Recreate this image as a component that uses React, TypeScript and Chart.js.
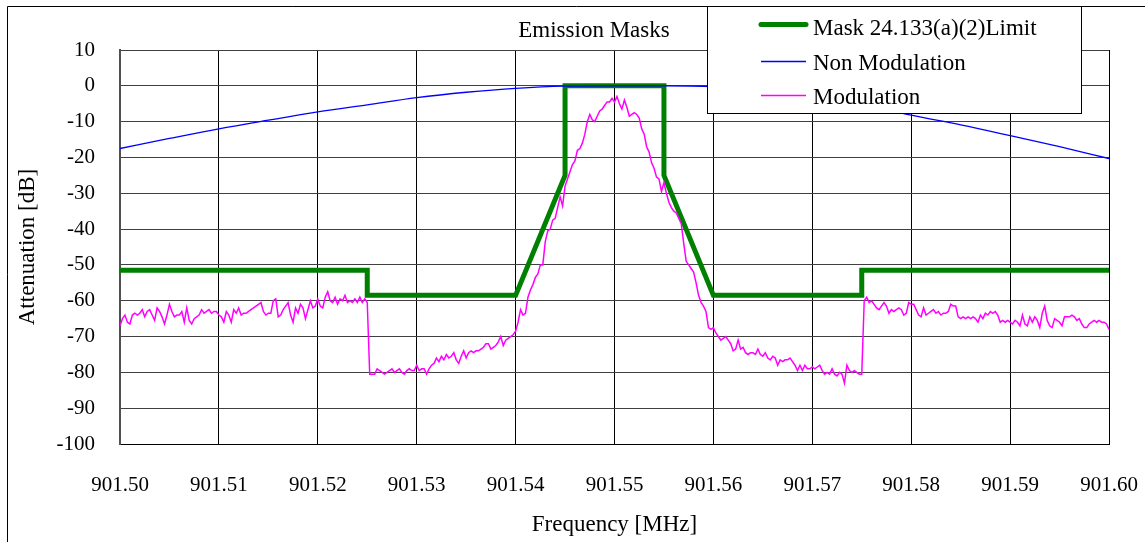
import React, { useEffect, useRef } from 'react';
import { Chart, registerables } from 'chart.js';

Chart.register(...registerables);

const FONT = "'Liberation Serif', 'Times New Roman', serif";

const chartTitle = 'Emission Masks';
const xAxisTitle = 'Frequency [MHz]';
const yAxisTitle = 'Attenuation [dB]';
const seriesNames = ['Mask 24.133(a)(2)Limit', 'Non Modulation', 'Modulation'];
const seriesColors = ['#008000', '#0000FF', '#FF00FF'];

const xTicks = [901.5, 901.51, 901.52, 901.53, 901.54, 901.55, 901.56, 901.57, 901.58, 901.59, 901.6];
const yMin = -100;
const yMax = 10;
const yStep = 10;

// Mask 24.133(a)(2) limit
const maskFreq = [901.5, 901.525, 901.525, 901.54, 901.545, 901.545, 901.555, 901.555, 901.56, 901.575, 901.575, 901.6];
const maskValues = [-51.5, -51.5, -58.5, -58.5, -25, 0, 0, -25, -58.5, -58.5, -51.5, -51.5];

// Non modulation (carrier only)
const nonModFreq = [
  901.5, 901.505, 901.51, 901.515, 901.52, 901.525, 901.53, 901.535, 901.54, 901.545, 901.55,
  901.555, 901.56, 901.565, 901.57, 901.575, 901.58, 901.585, 901.59, 901.595, 901.6,
];
const nonModValues = [
  -17.5, -14.7, -12.0, -9.6, -7.3, -5.3, -3.3, -1.8, -0.7, -0.1, 0,
  0, -0.2, -1.0, -2.6, -5.0, -8.2, -10.9, -13.9, -17.0, -20.3,
];

// Modulation trace, sampled every 0.00025 MHz starting at 901.500
const modStart = 901.5;
const modStep = 0.00025;
const modValues = [
  -67, -65, -64, -66, -66.5, -64, -63.5, -64, -63.5, -62.5,
  -64.5, -63, -62.5, -64, -65.5, -62, -63, -64.5, -66.5, -64,
  -61, -63, -64.5, -64, -64, -63, -66, -62, -65.5, -66.5,
  -65, -64.5, -64, -62.5, -63.5, -63, -62.5, -63.5, -63, -63,
  -64, -64.5, -66, -63, -64, -66, -62.5, -63.5, -62, -64,
  -63.5, -63.5, -63, -62.5, -62, -61.5, -61, -60.5, -63, -64,
  -63.5, -63.5, -60, -59.5, -64.5, -64, -62.5, -61.5, -60.5, -64,
  -66, -62, -63.5, -61, -62, -65, -62.5, -60, -62, -61.5,
  -59.5, -61.5, -62, -59, -57.5, -60, -60.5, -59, -61, -59.5,
  -60, -58.5, -60.5, -60, -60.5, -59.5, -60.5, -59, -60.5, -59.5,
  -60.5,
  -80.5, -80.5, -80.5, -79, -79.5, -80, -80.5, -80, -79.5, -79,
  -80, -79.5, -79, -80, -80.5, -79.5, -79, -79.5, -79.5, -78,
  -79.5, -79, -79, -80.5, -79, -78, -77.5, -76, -77, -75.5,
  -76.5, -75, -76, -75.5, -74.5, -76.5, -77.5, -75.5, -74, -76,
  -74.5, -74, -74.5, -74, -74, -73.5, -73, -72, -72, -73.5,
  -73, -72.5, -71.5, -70, -72.5, -71, -70.5, -70, -69.5, -68.5,
  -66, -62.5, -64, -63.5, -59, -57, -55.5, -53.5, -52.5, -50,
  -50, -43.5, -40.5, -40, -37.5, -37, -34, -31, -33.5, -28,
  -26, -24, -22, -21, -18, -17.5, -16, -13.5, -10, -8,
  -9.5, -10, -8.5, -7, -6.5, -5.5, -4.5, -4.5, -3.5, -4.5,
  -3, -5, -6.5, -4, -6, -8.5, -8, -7.5, -8, -9,
  -12, -13.5, -17, -18.5, -21.5, -23, -25.5, -26, -29.5, -27,
  -30, -32.5, -34, -35, -35.5, -37, -38.5, -44, -49, -50,
  -51, -52, -55, -58.5, -60.5, -61.5, -63, -67.5, -68, -67.5,
  -69, -70, -71, -70.5, -70, -71, -72, -74, -73.5, -71,
  -73.5, -73, -74.5, -75, -74.5, -74.5, -75, -73.5, -75, -75.5,
  -74.5, -76, -76.5, -75.5, -76, -78, -76.5, -77, -76.5, -76.5,
  -76, -77, -78, -79.5, -78, -79.5, -78, -79, -79, -78.5,
  -79, -78.5, -78, -79.5, -80.5, -80, -80.5, -79, -80.5, -81,
  -80, -80.5, -83, -78, -79.5, -80, -79.5, -80, -80.5, -80.5,
  -60, -59, -60.5, -60, -61, -62, -62.5, -61.5, -60.5, -61.5,
  -63.5, -62.5, -63, -62.5, -62, -62.5, -64, -63.5, -60.5, -61,
  -61, -62.5, -64, -64.5, -62, -64, -63.5, -63, -62.5, -63.5,
  -63, -64, -63.5, -63.5, -63, -61, -61.5, -61.5, -64.5, -65,
  -64.5, -65, -64.5, -65, -64.5, -65, -66, -64, -65, -63.5,
  -64, -63, -63.5, -63, -64, -66, -65.5, -66, -65.5, -66,
  -66.5, -65.5, -66, -67, -64, -66.5, -67, -64.5, -66, -64.5,
  -65.5, -67.5, -63.5, -61.5, -65.5, -67, -67.5, -65, -65.5, -66,
  -67, -64.5, -64.5, -64.5, -64, -64.5, -65.5, -65, -66.5, -67.5,
  -67.5, -66.5, -66, -65.5, -66, -65.5, -66, -66, -66.5, -68,
];

const decorPlugin = {
  id: 'decor',
  afterDraw(chart: any) {
    const ctx = chart.ctx as CanvasRenderingContext2D;
    ctx.save();
    // outer frame
    ctx.strokeStyle = '#000';
    ctx.lineWidth = 1;
    ctx.beginPath();
    ctx.moveTo(7.5, 600);
    ctx.lineTo(7.5, 6.5);
    ctx.lineTo(1200, 6.5);
    ctx.stroke();
    // title
    ctx.fillStyle = '#000';
    ctx.font = `23px ${FONT}`;
    ctx.textAlign = 'center';
    ctx.textBaseline = 'middle';
    ctx.fillText(chartTitle, 594, 31);
    // legend box
    ctx.fillStyle = '#fff';
    ctx.fillRect(707.5, 6.5, 374, 107);
    ctx.strokeStyle = '#000';
    ctx.strokeRect(707.5, 6.5, 374, 107);
    const lineY = [24, 61, 95];
    const textY = [35, 70, 104];
    chart.data.datasets.forEach((ds: any, i: number) => {
      ctx.strokeStyle = ds.borderColor;
      ctx.lineWidth = i === 0 ? 5 : 1.5;
      ctx.lineCap = i === 0 ? 'round' : 'butt';
      ctx.beginPath();
      ctx.moveTo(761, lineY[i] + 0.5);
      ctx.lineTo(806, lineY[i] + 0.5);
      ctx.stroke();
      ctx.fillStyle = '#000';
      ctx.font = `23px ${FONT}`;
      ctx.textAlign = 'left';
      ctx.textBaseline = 'alphabetic';
      ctx.fillText(ds.label, 813, textY[i]);
    });
    ctx.restore();
  },
};

export default function App() {
  const canvasRef = useRef<HTMLCanvasElement | null>(null);

  useEffect(() => {
    if (!canvasRef.current) return;
    Chart.defaults.font.family = FONT;
    Chart.defaults.color = '#000';

    const maskData = maskFreq.map((f, i) => ({ x: f, y: maskValues[i] }));
    const nonModData = nonModFreq.map((f, i) => ({ x: f, y: nonModValues[i] }));
    const modData = modValues.map((v, i) => ({ x: modStart + i * modStep, y: v }));

    const chart = new Chart(canvasRef.current, {
      type: 'line',
      data: {
        datasets: [
          {
            label: seriesNames[0],
            data: maskData,
            borderColor: seriesColors[0],
            borderWidth: 5,
            borderJoinStyle: 'miter',
            pointRadius: 0,
            order: 3,
          },
          {
            label: seriesNames[1],
            data: nonModData,
            borderColor: seriesColors[1],
            borderWidth: 1.3,
            cubicInterpolationMode: 'monotone',
            pointRadius: 0,
            order: 2,
          },
          {
            label: seriesNames[2],
            data: modData,
            borderColor: seriesColors[2],
            borderWidth: 1.5,
            pointRadius: 0,
            order: 1,
          },
        ],
      },
      options: {
        animation: false,
        responsive: false,
        devicePixelRatio: 1,
        layout: { padding: { top: 50, right: 36, left: 0, bottom: 0 } },
        plugins: {
          legend: { display: false },
          title: { display: false },
          tooltip: { enabled: false },
        },
        elements: { point: { radius: 0 }, line: { tension: 0 } },
        scales: {
          x: {
            type: 'linear',
            min: xTicks[0],
            max: xTicks[xTicks.length - 1],
            afterBuildTicks: (s: any) => {
              s.ticks = xTicks.map((v) => ({ value: v }));
            },
            afterFit: (s: any) => {
              s.height = 98;
              s.paddingLeft = 0;
              s.paddingRight = 0;
            },
            ticks: {
              callback: (v: any) => Number(v).toFixed(2),
              padding: 29,
              font: { size: 21, family: FONT },
              color: '#000',
              maxRotation: 0,
              autoSkip: false,
            },
            grid: { color: '#000', lineWidth: 1, drawTicks: false },
            border: { color: '#000', width: 1 },
            title: {
              display: true,
              text: xAxisTitle,
              font: { size: 23, family: FONT },
              color: '#000',
              padding: { top: 0, bottom: 3 },
            },
          },
          y: {
            type: 'linear',
            min: yMin,
            max: yMax,
            afterFit: (s: any) => {
              s.width = 120;
              s.paddingTop = 0;
              s.paddingBottom = 0;
            },
            ticks: {
              stepSize: yStep,
              padding: 25,
              font: { size: 21, family: FONT },
              color: '#000',
            },
            grid: { color: '#404040', lineWidth: 1, drawTicks: false },
            border: { color: '#505050', width: 2 },
            title: {
              display: true,
              text: yAxisTitle,
              font: { size: 23, family: FONT },
              color: '#000',
              padding: { top: 14, bottom: 0 },
            },
          },
        },
      },
      plugins: [decorPlugin],
    } as any);

    return () => chart.destroy();
  }, []);

  return (
    <div style={{ position: 'absolute', left: 0, top: 0, width: 1145, height: 542, background: '#fff' }}>
      <canvas ref={canvasRef} width={1145} height={542} style={{ display: 'block' }} />
    </div>
  );
}
